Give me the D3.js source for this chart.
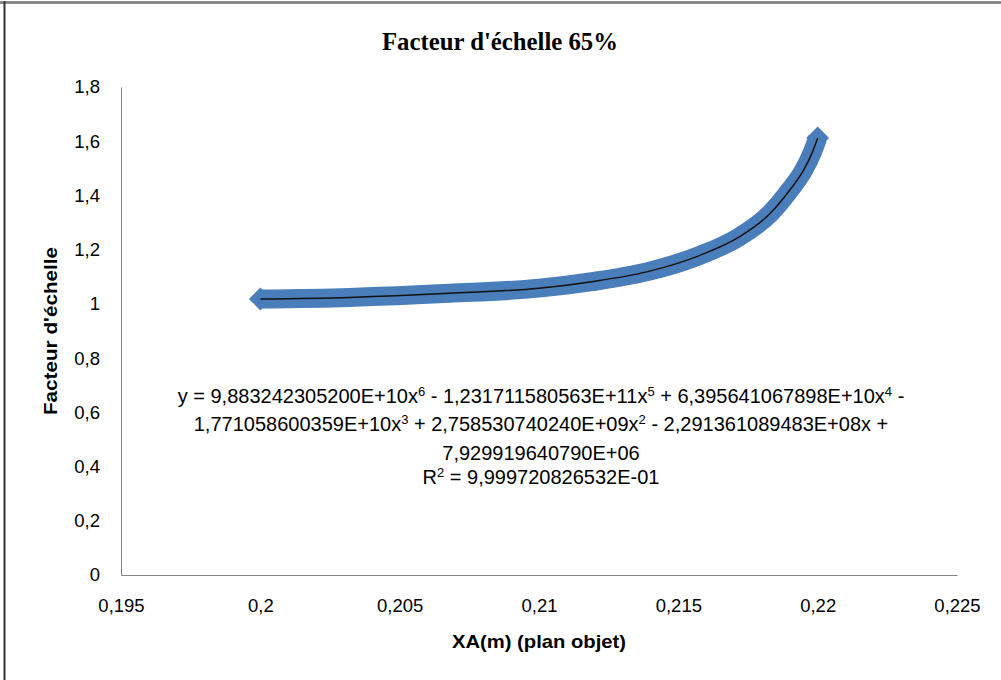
<!DOCTYPE html>
<html><head><meta charset="utf-8">
<script src="https://cdn.jsdelivr.net/npm/d3@7"></script>
<style>
body{margin:0;background:#fff;}
svg{display:block;}
</style></head>
<body>
<svg id="chart" width="1001" height="680"></svg>
<script>
// Data
const xaValues = [0.2000, 0.2032, 0.2068, 0.2100, 0.2119, 0.2139, 0.2158, 0.2172, 0.2183, 0.2190, 0.2195, 0.2198, 0.2200];
const scaleValues = [1.018, 1.024, 1.039, 1.058, 1.082, 1.119, 1.180, 1.248, 1.334, 1.420, 1.494, 1.557, 1.612];
const xTicks = [0.195, 0.2, 0.205, 0.21, 0.215, 0.22, 0.225];
const yTicks = [0, 0.2, 0.4, 0.6, 0.8, 1, 1.2, 1.4, 1.6, 1.8];
const titleText = "Facteur d'échelle 65%";
const xTitle = "XA(m) (plan objet)";
const yTitle = "Facteur d'échelle";
const eqLines = [
  ["y = 9,883242305200E+10x", "6", " - 1,231711580563E+11x", "5", " + 6,395641067898E+10x", "4", " -"],
  ["1,771058600359E+10x", "3", " + 2,758530740240E+09x", "2", " - 2,291361089483E+08x +"],
  ["7,929919640790E+06"],
  ["R", "2", " = 9,999720826532E-01"]
];

const svg = d3.select("#chart");
const fmt = v => String(+v.toFixed(3)).replace(".", ",");

// frame
svg.append("line").attr("x1",0).attr("x2",1001).attr("y1",2.5).attr("y2",2.5).attr("stroke","#8a8a8a").attr("stroke-width",3);
svg.append("line").attr("x1",4.5).attr("x2",4.5).attr("y1",1).attr("y2",680).attr("stroke","#333").attr("stroke-width",2);

const x = d3.scaleLinear().domain([0.195, 0.225]).range([121, 957]);
const y = d3.scaleLinear().domain([0, 1.8]).range([575, 87]);

const font = "'Liberation Sans',Arial,sans-serif";

// axes
const xAxis = svg.append("g").attr("transform","translate(0,575)")
  .call(d3.axisBottom(x).tickValues(xTicks).tickFormat(fmt).tickSize(0).tickPadding(24));
xAxis.select(".domain").attr("stroke","#868686").attr("stroke-width",1);
xAxis.selectAll("text").attr("font-family",font).attr("font-size",18.5).attr("fill","#000");

const yAxis = svg.append("g").attr("transform","translate(121,0)")
  .call(d3.axisLeft(y).tickValues(yTicks).tickFormat(fmt).tickSize(0).tickPadding(21));
yAxis.select(".domain").attr("stroke","#868686").attr("stroke-width",1);
yAxis.selectAll("text").attr("font-family",font).attr("font-size",18.5).attr("fill","#000");

// title
svg.append("text").attr("x",500).attr("y",50).attr("text-anchor","middle")
  .attr("font-family","'Liberation Serif','Times New Roman',serif").attr("font-weight","bold")
  .attr("font-size",25).attr("textLength",236).attr("lengthAdjust","spacingAndGlyphs").text(titleText);

// axis titles
svg.append("text").attr("x",539).attr("y",648).attr("text-anchor","middle")
  .attr("font-family",font).attr("font-weight","bold").attr("font-size",19)
  .attr("textLength",174).attr("lengthAdjust","spacingAndGlyphs").text(xTitle);
svg.append("text").attr("transform","translate(57,331) rotate(-90)").attr("text-anchor","middle")
  .attr("font-family",font).attr("font-weight","bold").attr("font-size",19)
  .attr("textLength",168).attr("lengthAdjust","spacingAndGlyphs").text(yTitle);

// series
const pts = xaValues.map((v,i)=>[x(v), y(scaleValues[i])]);
const line = d3.line().curve(d3.curveMonotoneX);
svg.append("path").attr("d", line(pts)).attr("fill","none").attr("stroke","#4a7ebb")
  .attr("stroke-width",19).attr("stroke-linejoin","round");
const ends = [pts[0], pts[pts.length-1]];
svg.selectAll(".mk").data(ends).enter().append("path").attr("class","mk")
  .attr("d", d3.symbol().type(d3.symbolSquare).size(260))
  .attr("transform", d=>`translate(${d[0]},${d[1]}) rotate(45)`)
  .attr("fill","#4a7ebb");
// trendline
svg.append("path").attr("d", line(pts)).attr("fill","none").attr("stroke","#111").attr("stroke-width",1.5);

// equation
const eqY = [403, 431, 460, 484];
eqLines.forEach((parts, li) => {
  const t = svg.append("text").attr("x",541).attr("y",eqY[li]).attr("text-anchor","middle")
    .attr("font-family",font).attr("font-size",20).attr("fill","#000");
  parts.forEach((p, pi) => {
    const isSup = (li === 3) ? pi === 1 : pi % 2 === 1;
    const ts = t.append("tspan").text(p);
    if (isSup) ts.attr("font-size",13).attr("dy",-7);
    else if (pi > 0) ts.attr("dy",7);
  });
});
</script>
</body></html>
